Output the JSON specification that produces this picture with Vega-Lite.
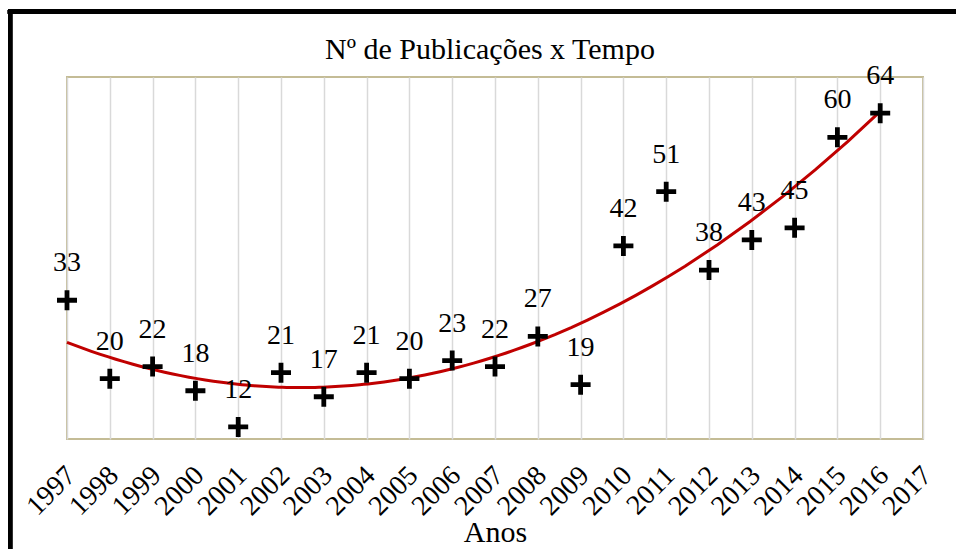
{
  "$schema": "https://vega.github.io/schema/vega-lite/v6.json",
  "width": 856,
  "height": 362,
  "autosize": {"type": "none"},
  "padding": {"left": 67, "top": 77, "right": 33, "bottom": 110},
  "background": "white",
  "title": {
    "text": "Nº de Publicações x Tempo",
    "font": "Liberation Serif",
    "fontSize": 30,
    "fontWeight": "normal",
    "color": "#000000",
    "anchor": "middle",
    "frame": "group",
    "baseline": "alphabetic",
    "offset": -79,
    "dx": -5
  },
  "config": {
    "view": {"stroke": "#c4bc96", "strokeWidth": 2}
  },
  "data": {
    "values": [
      {"ano": 1997, "publicacoes": 33},
      {"ano": 1998, "publicacoes": 20},
      {"ano": 1999, "publicacoes": 22},
      {"ano": 2000, "publicacoes": 18},
      {"ano": 2001, "publicacoes": 12},
      {"ano": 2002, "publicacoes": 21},
      {"ano": 2003, "publicacoes": 17},
      {"ano": 2004, "publicacoes": 21},
      {"ano": 2005, "publicacoes": 20},
      {"ano": 2006, "publicacoes": 23},
      {"ano": 2007, "publicacoes": 22},
      {"ano": 2008, "publicacoes": 27},
      {"ano": 2009, "publicacoes": 19},
      {"ano": 2010, "publicacoes": 42},
      {"ano": 2011, "publicacoes": 51},
      {"ano": 2012, "publicacoes": 38},
      {"ano": 2013, "publicacoes": 43},
      {"ano": 2014, "publicacoes": 45},
      {"ano": 2015, "publicacoes": 60},
      {"ano": 2016, "publicacoes": 64}
    ]
  },
  "encoding": {
    "x": {
      "field": "ano",
      "type": "quantitative",
      "scale": {"domain": [1997, 2017], "nice": false, "zero": false},
      "axis": {
        "title": "Anos",
        "values": [1997, 1998, 1999, 2000, 2001, 2002, 2003, 2004, 2005, 2006, 2007, 2008, 2009, 2010, 2011, 2012, 2013, 2014, 2015, 2016, 2017],
        "format": "d",
        "grid": true,
        "gridColor": "#d9d9d9",
        "gridWidth": 1.5,
        "domain": false,
        "ticks": false,
        "labelAngle": -45,
        "labelAlign": "right",
        "labelBaseline": "top",
        "labelPadding": 22,
        "labelOffset": -6,
        "labelFont": "Liberation Serif",
        "labelFontSize": 28,
        "labelColor": "#000000",
        "labelOverlap": false,
        "labelFlush": false,
        "titleFont": "Liberation Serif",
        "titleFontSize": 30,
        "titleFontWeight": "normal",
        "titleColor": "#000000",
        "titleBaseline": "alphabetic",
        "titleY": 102
      }
    },
    "y": {
      "field": "publicacoes",
      "type": "quantitative",
      "scale": {"domain": [10, 70], "nice": false, "zero": false},
      "axis": null
    }
  },
  "layer": [
    {
      "mark": {"type": "rule", "color": "#000000", "strokeWidth": 4, "clip": false},
      "encoding": {
        "x": {"datum": 1995.67, "type": "quantitative"},
        "y": {"datum": 80.8, "type": "quantitative"},
        "y2": {"datum": -12}
      }
    },
    {
      "mark": {"type": "rule", "color": "#000000", "strokeWidth": 4, "clip": false},
      "encoding": {
        "x": {"datum": 1995.62, "type": "quantitative"},
        "x2": {"datum": 2019.5},
        "y": {"datum": 80.8, "type": "quantitative"}
      }
    },
    {
      "transform": [
        {"regression": "publicacoes", "on": "ano", "method": "poly", "order": 2}
      ],
      "mark": {"type": "line", "color": "#c00000", "strokeWidth": 3},
      "encoding": {}
    },
    {
      "mark": {
        "type": "point",
        "shape": "M-1,-0.24H-0.24V-1H0.24V-0.24H1V0.24H0.24V1H-0.24V0.24H-1Z",
        "filled": true,
        "color": "#000000",
        "opacity": 1,
        "size": 400
      },
      "encoding": {}
    },
    {
      "mark": {
        "type": "text",
        "font": "Liberation Serif",
        "fontSize": 28,
        "color": "#000000",
        "baseline": "alphabetic",
        "align": "center",
        "dy": -29
      },
      "encoding": {"text": {"field": "publicacoes", "type": "quantitative"}}
    }
  ]
}
